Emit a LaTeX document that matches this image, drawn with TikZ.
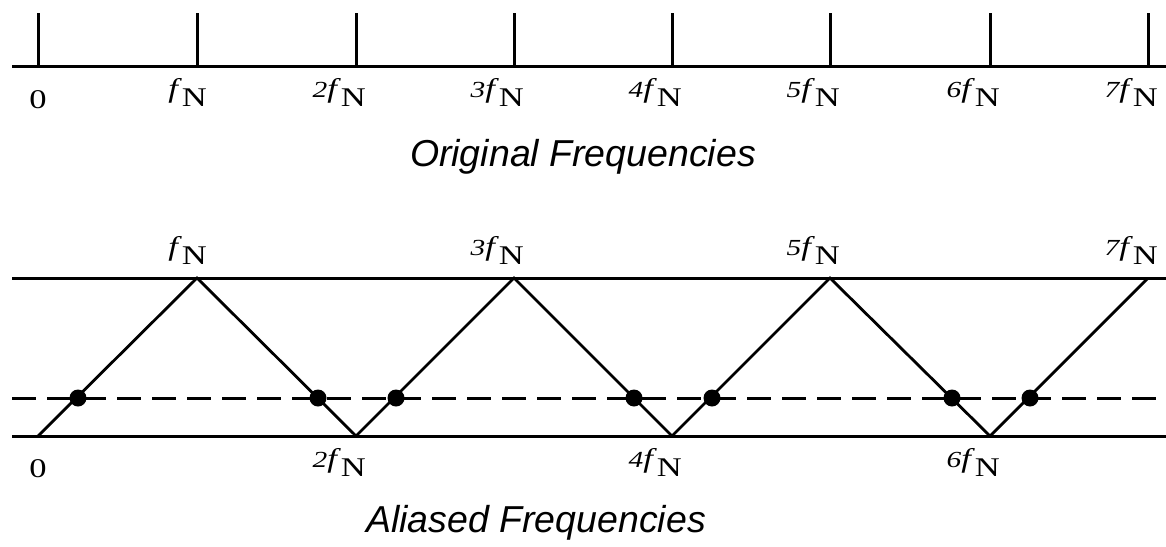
\documentclass[tikz,border=0pt]{standalone}
\usepackage{fontspec}
\setmainfont{Liberation Serif}
\newfontfamily\titlefont{Liberation Sans}
\newcommand{\fNlab}[1]{\scalebox{1.28}[1]{{\fontsize{23}{25}\selectfont\itshape #1}\textit{f}\raisebox{-0.36em}{N}}}
\newcommand{\zerolab}{\scalebox{1.28}[1]{0}}
\begin{document}
\begin{tikzpicture}[x=1pt,y=-1pt,
  axis/.style={line width=3pt},
  tickline/.style={line width=3pt},
  zig/.style={line width=2.8pt, line join=miter},
  dashline/.style={line width=3pt, dash pattern=on 24pt off 11pt},
  lab/.style={inner sep=0pt, font=\fontsize{27}{30}\selectfont},
  ttl/.style={inner sep=0pt, font=\titlefont\itshape\fontsize{37.5}{40}\selectfont},
  dot/.style={circle, fill=black, inner sep=0pt, minimum size=17pt}]
\useasboundingbox (0,0) rectangle (1166,546);
% ---------- top axis ----------
\coordinate (tl) at (12,66);
\coordinate (tr) at (1166,66);
\draw[axis] (tl) -- (tr);
\foreach \i/\x in {0/38,1/197,2/356,3/514,4/672,5/830,6/990,7/1148}{
  \coordinate (b\i) at (\x,66);
  \coordinate (t\i) at (\x,13);
  \draw[tickline] (b\i) -- (t\i);
}
\node[lab, anchor=base] (o0) at (38,108) {\zerolab};
\foreach \i/\x/\p in {1/197/,2/356/2,3/514/3,4/672/4,5/830/5,6/990/6,7/1148/7}{
  \node[lab, anchor=base east] (o\i) at (\x+10,97) {\fNlab{\p}};
}
\node[ttl] (title1) at (583,157) {Original Frequencies};
% ---------- bottom ----------
\coordinate (ul) at (12,278);
\coordinate (ur) at (1166,278);
\coordinate (ll) at (12,436);
\coordinate (lr) at (1166,436);
\coordinate (dl) at (12,398);
\coordinate (dr) at (1166,398);
\draw[axis] (ul) -- (ur);
\draw[axis] (ll) -- (lr);
\draw[dashline] (dl) -- (dr);
\coordinate (z0) at (38,436);
\coordinate (z1) at (197,278);
\coordinate (z2) at (356,436);
\coordinate (z3) at (514,278);
\coordinate (z4) at (672,436);
\coordinate (z5) at (830,278);
\coordinate (z6) at (990,436);
\coordinate (z7) at (1148,278);
\draw[zig] (z0) -- (z1) -- (z2) -- (z3) -- (z4) -- (z5) -- (z6) -- (z7);
\foreach \n/\x in {d1/78,d2/318,d3/396,d4/634,d5/712,d6/952,d7/1030}{
  \node[dot] (\n) at (\x,398) {};
}
\node[lab, anchor=base] (a0) at (38,477) {\zerolab};
\foreach \i/\x/\p in {2/356/2,4/672/4,6/990/6}{
  \node[lab, anchor=base east] (a\i) at (\x+10,467) {\fNlab{\p}};
}
\foreach \i/\x/\p in {1/197/,3/514/3,5/830/5,7/1148/7}{
  \node[lab, anchor=base east] (a\i) at (\x+10,255) {\fNlab{\p}};
}
\node[ttl] (title2) at (536,523) {Aliased Frequencies};
\end{tikzpicture}
\end{document}
